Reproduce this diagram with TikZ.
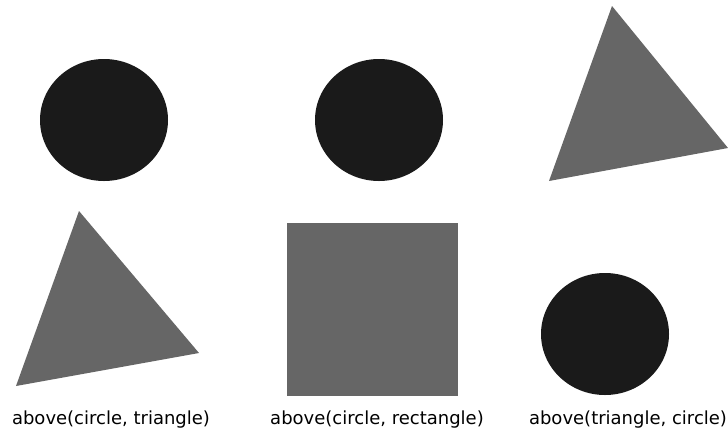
\documentclass[tikz,border=0pt]{standalone}
\usepackage{fontspec}
\setmainfont{DejaVu Sans}
\definecolor{circcol}{HTML}{1A1A1A}
\definecolor{shapecol}{HTML}{666666}
\begin{document}
\begin{tikzpicture}[x=1pt,y=-1pt,
  circshape/.style={fill=circcol},
  greyshape/.style={fill=shapecol},
  lbl/.style={anchor=base,inner sep=0pt,font=\fontsize{18}{21}\selectfont}]
\useasboundingbox (0,0) rectangle (728,432);
% panel 1
\fill[circshape] (104,120) ellipse [x radius=64, y radius=61];
\fill[greyshape] (79,211) -- (199,353) -- (16,386) -- cycle;
\node[lbl] (l1) at (111,424) {above(circle, triangle)};
% panel 2
\fill[circshape] (379,120) ellipse [x radius=64, y radius=61];
\fill[greyshape] (287,223) rectangle (458,396);
\node[lbl] (l2) at (377,424) {above(circle, rectangle)};
% panel 3
\fill[greyshape] (612,6) -- (728,148) -- (549,181) -- cycle;
\fill[circshape] (605,334) ellipse [x radius=64, y radius=61];
\node[lbl] (l3) at (628,424) {above(triangle, circle)};
\end{tikzpicture}
\end{document}
